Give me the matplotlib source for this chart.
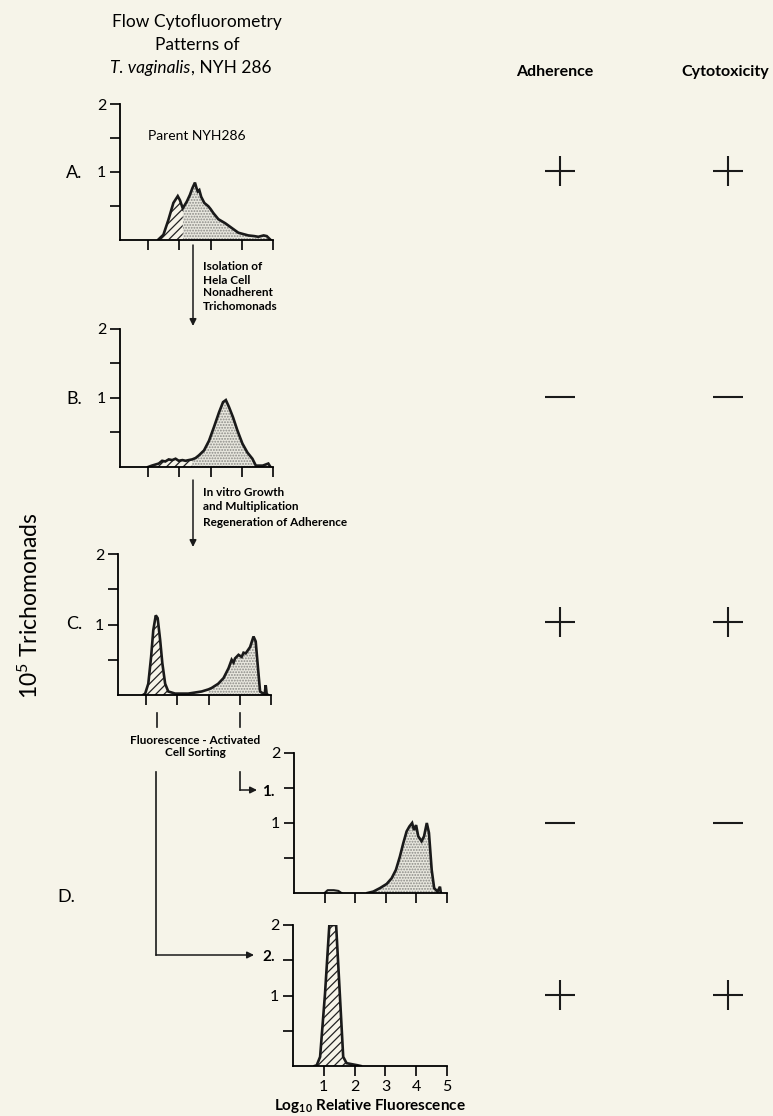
import matplotlib
matplotlib.use('Agg')
import matplotlib.pyplot as plt
import numpy as np

plt.rcParams['font.family'] = ['Lato', 'DejaVu Sans']
plt.rcParams['mathtext.default'] = 'regular'
plt.rcParams['hatch.linewidth'] = 0.9

# histogram outlines (x = log10 fluorescence, y = 10^5 cells)
a_x = [1.33, 1.49, 1.65, 1.81, 1.95, 2.02, 2.11, 2.24, 2.34, 2.42, 2.50, 2.55, 2.59, 2.64,
       2.70, 2.80, 2.93, 3.00, 3.09, 3.25, 3.47, 3.68, 3.89, 4.05, 4.21, 4.40, 4.53, 4.70, 4.80, 4.91]
a_y = [0.0, 0.07, 0.29, 0.54, 0.64, 0.58, 0.46, 0.56, 0.66, 0.76, 0.84, 0.76, 0.71, 0.73,
       0.63, 0.54, 0.49, 0.45, 0.39, 0.30, 0.24, 0.17, 0.10, 0.08, 0.06, 0.05, 0.04, 0.06, 0.05, 0.0]
a_hatch_end = 2.11

b_x = [1.00, 1.12, 1.34, 1.45, 1.55, 1.66, 1.77, 1.88, 1.98, 2.10, 2.20, 2.30, 2.41, 2.52,
       2.63, 2.79, 2.95, 3.11, 3.27, 3.40, 3.49, 3.59, 3.72, 3.86, 4.02, 4.18, 4.34, 4.45,
       4.67, 4.85, 4.92]
b_y = [0.0, 0.02, 0.05, 0.09, 0.08, 0.11, 0.10, 0.12, 0.09, 0.10, 0.09, 0.10, 0.11, 0.13,
       0.17, 0.24, 0.38, 0.58, 0.79, 0.94, 0.97, 0.87, 0.72, 0.53, 0.34, 0.21, 0.12, 0.02,
       0.02, 0.05, 0.0]
b_hatch_end = 2.41

c_x = [0.90, 0.97, 1.07, 1.16, 1.23, 1.31, 1.37, 1.45, 1.52, 1.61, 1.71, 1.93, 2.35, 2.78,
       3.00, 3.10, 3.31, 3.48, 3.64, 3.74, 3.80, 3.85, 3.96, 4.06, 4.12, 4.19, 4.33, 4.44,
       4.51, 4.58, 4.65, 4.75, 4.80, 4.83, 4.86, 4.90]
c_y = [0.0, 0.02, 0.16, 0.54, 0.92, 1.13, 1.09, 0.78, 0.45, 0.16, 0.05, 0.02, 0.02, 0.05,
       0.08, 0.10, 0.16, 0.24, 0.38, 0.50, 0.46, 0.52, 0.57, 0.54, 0.60, 0.59, 0.68, 0.83,
       0.76, 0.40, 0.05, 0.02, 0.02, 0.14, 0.02, 0.0]
c_hatch_end = 1.71
c_dots_start = 3.00

d1_x = [2.40, 2.59, 2.81, 3.03, 3.19, 3.33, 3.46, 3.57, 3.68, 3.77, 3.86, 3.92, 3.99, 4.06,
        4.17, 4.25, 4.34, 4.41, 4.50, 4.58, 4.69, 4.77, 4.80]
d1_y = [0.0, 0.02, 0.07, 0.13, 0.21, 0.33, 0.52, 0.71, 0.88, 0.95, 1.00, 0.90, 0.97, 0.81,
        0.74, 0.81, 1.00, 0.86, 0.33, 0.07, 0.02, 0.09, 0.0]
d1_bump_x = [1.00, 1.10, 1.30, 1.45, 1.55]
d1_bump_y = [0.0, 0.04, 0.04, 0.03, 0.0]

d2_x = [0.70, 0.77, 0.88, 1.04, 1.18, 1.40, 1.53, 1.63, 1.74, 2.10, 2.20]
d2_y = [0.0, 0.01, 0.13, 1.03, 2.0, 2.0, 0.94, 0.13, 0.04, 0.01, 0.0]

row_labels = ['A.', 'B.', 'C.', '', '']
adherence = ['+', '-', '+', '-', '+']
cytotoxicity = ['+', '-', '+', '-', '+']

W, H = 773, 1116
bg = '#f6f4e9'
fig = plt.figure(figsize=(W / 100, H / 100), dpi=100)
fig.patch.set_facecolor(bg)

def px_axes(x0, x1, ytop, ybot):
    return fig.add_axes([x0 / W, 1 - ybot / H, (x1 - x0) / W, (ybot - ytop) / H])

def style(ax, xmin, xlabels=False):
    ax.set_facecolor('none')
    ax.set_xlim(xmin, 5)
    ax.set_ylim(0, 2)
    for s in ['top', 'right']:
        ax.spines[s].set_visible(False)
    for s in ['left', 'bottom']:
        ax.spines[s].set_linewidth(1.3)
    ax.set_yticks([0.5, 1, 1.5, 2])
    ax.set_yticklabels(['', '1', '', '2'], fontsize=11.5)
    ax.set_xticks([1, 2, 3, 4, 5])
    if xlabels:
        ax.set_xticklabels(['1', '2', '3', '4', '5'], fontsize=11.5)
    else:
        ax.set_xticklabels([])
    ax.tick_params(direction='out', length=7, width=1.2, pad=3)

def hist(ax, x, y, hatch_mask=None, dot_mask=None):
    x = np.array(x)
    y = np.array(y)
    if dot_mask is not None:
        ax.fill_between(x, 0, y, where=dot_mask(x), facecolor='#e8e7de',
                        edgecolor='#8a8a86', hatch='......', linewidth=0)
    if hatch_mask is not None:
        ax.fill_between(x, 0, y, where=hatch_mask(x), facecolor=bg,
                        edgecolor='#222222', hatch='////', linewidth=0)
    ax.plot(x, y, color='#1a1a1a', lw=1.9, solid_joinstyle='miter')

# A
axA = px_axes(120, 273, 104, 239.5)
style(axA, 0.1)
hist(axA, a_x, a_y, hatch_mask=lambda x: x <= a_hatch_end, dot_mask=lambda x: x >= a_hatch_end)

# B
axB = px_axes(120, 273, 329, 467)
style(axB, 0.1)
hist(axB, b_x, b_y, hatch_mask=lambda x: x <= b_hatch_end, dot_mask=lambda x: x >= b_hatch_end)

# C
axC = px_axes(118, 271, 554, 695)
style(axC, 0.1)
hist(axC, c_x, c_y, hatch_mask=lambda x: x <= c_hatch_end, dot_mask=lambda x: x >= c_dots_start)

# D1
axD1 = px_axes(294, 447, 753, 893)
style(axD1, 0)
hist(axD1, d1_x, d1_y, dot_mask=lambda x: x >= d1_x[0])
axD1.plot(d1_bump_x, d1_bump_y, color='#1a1a1a', lw=1.5)

# D2
axD2 = px_axes(293, 447, 925, 1066)
style(axD2, 0, xlabels=True)
hist(axD2, d2_x, d2_y, hatch_mask=lambda x: x >= d2_x[0])
axD2.set_xlabel('Log$_{10}$ Relative Fluorescence', fontsize=11, fontweight='bold', labelpad=2)

# overlay in pixel coordinates for titles, arrows and the +/- columns
ov = fig.add_axes([0, 0, 1, 1])
ov.set_xlim(0, W)
ov.set_ylim(H, 0)
ov.axis('off')
ov.patch.set_alpha(0)

ov.text(197, 22, 'Flow Cytofluorometry', ha='center', va='center', fontsize=12.5)
ov.text(197, 45, 'Patterns of', ha='center', va='center', fontsize=12.5)
ov.text(190, 68, 'T. vaginalis', ha='right', va='center', fontsize=12.5, style='italic')
ov.text(191, 68, ', NYH 286', ha='left', va='center', fontsize=12.5)
ov.text(197, 136, 'Parent NYH286', ha='center', va='center', fontsize=10)

ov.text(555, 72, 'Adherence', ha='center', va='center', fontsize=11.5, fontweight='bold')
ov.text(725, 72, 'Cytotoxicity', ha='center', va='center', fontsize=11.5, fontweight='bold')

row_y = [171, 397, 622, 823, 995]
for lab, ad, cy, yy in zip(row_labels, adherence, cytotoxicity, row_y):
    if lab:
        ov.text(74, yy + 2, lab, ha='center', va='center', fontsize=13)
    for xx, sym in [(560, ad), (728, cy)]:
        ov.plot([xx], [yy], marker='+' if sym == '+' else '_', markersize=22,
                markeredgewidth=1.5, color='#1a1a1a')
ov.text(66, 897, 'D.', ha='center', va='center', fontsize=13)

ov.text(30, 606, '10$^5$ Trichomonads', rotation=90, ha='center', va='center', fontsize=16.5)

arrow = dict(arrowstyle='-|>', lw=1.1, color='#1a1a1a', mutation_scale=10, shrinkA=0, shrinkB=0)
# A -> B
ov.annotate('', xy=(193, 326), xytext=(193, 245), arrowprops=arrow)
for i, t in enumerate(['Isolation of', 'Hela Cell', 'Nonadherent', 'Trichomonads']):
    ov.text(203, 267 + 13 * i, t, ha='left', va='center', fontsize=8.5, fontweight='bold')
# B -> C
ov.annotate('', xy=(193, 547), xytext=(193, 480), arrowprops=arrow)
ov.text(203, 493, 'In vitro Growth', ha='left', va='center', fontsize=8.5, fontweight='bold')
ov.text(203, 507, 'and Multiplication', ha='left', va='center', fontsize=8.5, fontweight='bold')
ov.text(203, 522, 'Regeneration of Adherence', ha='left', va='center', fontsize=8.5, fontweight='bold')

# sorting gates
for xx in [157, 240]:
    ov.plot([xx, xx], [713, 727], color='#1a1a1a', lw=1.2)
ov.text(195, 740, 'Fluorescence - Activated', ha='center', va='center', fontsize=8.5, fontweight='bold')
ov.text(195, 753, 'Cell Sorting', ha='center', va='center', fontsize=8.5, fontweight='bold')
ov.plot([240, 240], [772, 790], color='#1a1a1a', lw=1.2)
ov.annotate('', xy=(257, 790), xytext=(240, 790), arrowprops=arrow)
ov.text(262, 792, '1.', ha='left', va='center', fontsize=11, fontweight='bold')
ov.plot([156, 156], [772, 955], color='#1a1a1a', lw=1.2)
ov.annotate('', xy=(254, 955), xytext=(156, 955), arrowprops=arrow)
ov.text(262, 957, '2.', ha='left', va='center', fontsize=11, fontweight='bold')

fig.savefig('out.png', dpi=100, facecolor=bg)
